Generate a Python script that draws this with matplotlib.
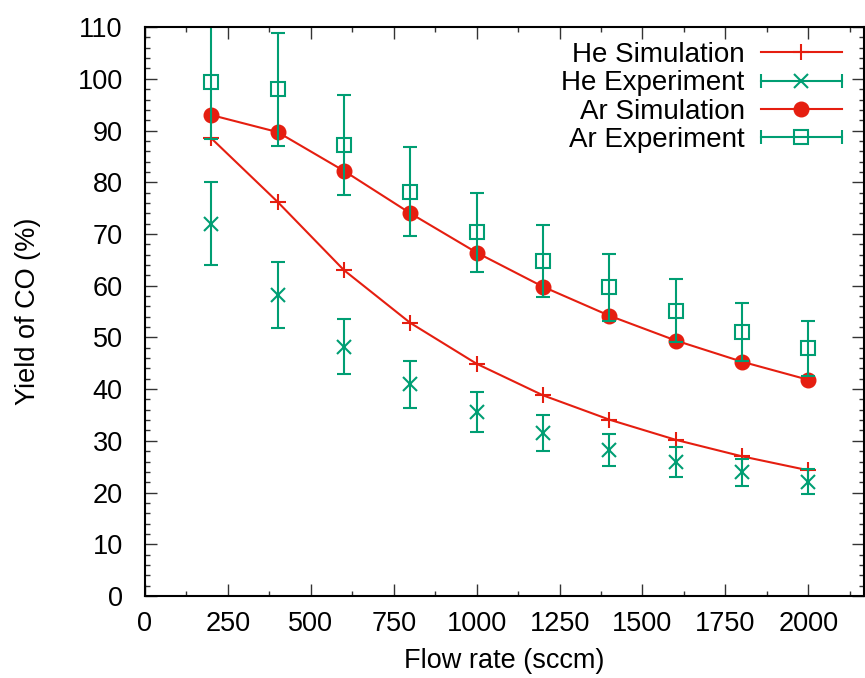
import numpy as np
import matplotlib
matplotlib.use("Agg")
import matplotlib.pyplot as plt
from matplotlib.lines import Line2D
from matplotlib.legend_handler import HandlerBase
from matplotlib.ticker import MultipleLocator

plt.rcParams['font.family'] = ['Liberation Sans', 'DejaVu Sans']

# dati
flusso = [200, 400, 600, 800, 1000, 1200, 1400, 1600, 1800, 2000]

he_sim = [88.5, 76.2, 63.0, 52.8, 44.9, 38.8, 34.1, 30.2, 27.0, 24.3]
he_exp = [72.0, 58.2, 48.2, 40.9, 35.6, 31.5, 28.2, 25.9, 23.9, 22.1]
he_err = [8.0, 6.4, 5.3, 4.5, 3.9, 3.5, 3.1, 2.9, 2.6, 2.4]

ar_sim = [93.0, 89.7, 82.2, 74.0, 66.4, 59.8, 54.2, 49.4, 45.3, 41.8]
ar_exp = [99.3, 98.0, 87.2, 78.2, 70.3, 64.8, 59.7, 55.2, 51.0, 47.9]
ar_err = [10.9, 10.9, 9.6, 8.6, 7.7, 7.0, 6.5, 6.0, 5.6, 5.3]

rosso = '#e51e10'
verde = '#009e73'


# voce di legenda stile gnuplot: linea orizzontale con stanghette
class GnuHandler(HandlerBase):
    def __init__(self, caps=False):
        super().__init__()
        self.caps = caps

    def create_artists(self, legend, orig, xd, yd, w, h, fs, trans):
        y = (h - yd) / 2.0
        x0, x1 = -xd, w - xd
        arts = [Line2D([x0, x1], [y, y], color=orig.get_color(), lw=1.5)]
        if self.caps:
            arts.append(Line2D([x0, x1], [y, y], ls='none', marker='|',
                               ms=10, mew=1.5, color=orig.get_color()))
        arts.append(Line2D([(x0 + x1) / 2], [y], ls='none',
                           marker=orig.get_marker(), ms=orig.get_markersize(),
                           mew=orig.get_markeredgewidth(),
                           color=orig.get_color(),
                           markerfacecolor=orig.get_markerfacecolor()))
        for a in arts:
            a.set_transform(trans)
        return arts


fig = plt.figure(figsize=(8.65, 6.78), dpi=100)
ax = fig.add_axes([0.1676, 0.121, 0.8313, 0.839])

ax.plot(flusso, he_sim, color=rosso, lw=1.5, marker='+', ms=11, mew=1.5)
ax.errorbar(flusso, he_exp, yerr=he_err, color=verde, ls='none', marker='x',
            ms=10, mew=1.5, elinewidth=1.5, capsize=5, capthick=1.5)
ax.plot(flusso, ar_sim, color=rosso, lw=1.5, marker='o', ms=10.5)
ax.errorbar(flusso, ar_exp, yerr=ar_err, color=verde, ls='none', marker='s',
            ms=10, mew=1.5, mfc='none', elinewidth=1.5, capsize=5, capthick=1.5)

ax.set_xlim(0, 2168)
ax.set_ylim(0, 110)
ax.xaxis.set_major_locator(MultipleLocator(250))
ax.xaxis.set_minor_locator(MultipleLocator(125))
ax.yaxis.set_major_locator(MultipleLocator(10))
ax.yaxis.set_minor_locator(MultipleLocator(2))
ax.tick_params(which='both', direction='in', top=True, right=True,
               labelsize=19.5, width=1, color='#333333')
ax.tick_params(which='major', length=8.5)
ax.tick_params(which='minor', length=3.8)
ax.tick_params(axis='x', which='major', pad=11)
ax.tick_params(axis='y', which='major', pad=16)
for s in ax.spines.values():
    s.set_linewidth(1.5)

ax.set_xlabel('Flow rate (sccm)', fontsize=19.5, labelpad=8)
ax.set_ylabel('Yield of CO (%)', fontsize=19.5, labelpad=26)

# voci di legenda
h1 = Line2D([], [], color=rosso, marker='+', ms=11, mew=1.5)
h2 = Line2D([], [], color=verde, marker='x', ms=10, mew=1.5)
h3 = Line2D([], [], color=rosso, marker='o', ms=10.5, mew=1.0)
h4 = Line2D([], [], color=verde, marker='s', ms=10, mew=1.5, markerfacecolor='none')
ax.legend([h1, h2, h3, h4],
          ['He Simulation', 'He Experiment', 'Ar Simulation', 'Ar Experiment'],
          handler_map={h1: GnuHandler(), h2: GnuHandler(True),
                       h3: GnuHandler(), h4: GnuHandler(True)},
          loc='upper right', bbox_to_anchor=(0.969, 0.974), frameon=False,
          markerfirst=False, fontsize=20, handlelength=2.9, handletextpad=0.6,
          labelspacing=0.085, borderpad=0, borderaxespad=0)

fig.savefig('out.png', dpi=100)
